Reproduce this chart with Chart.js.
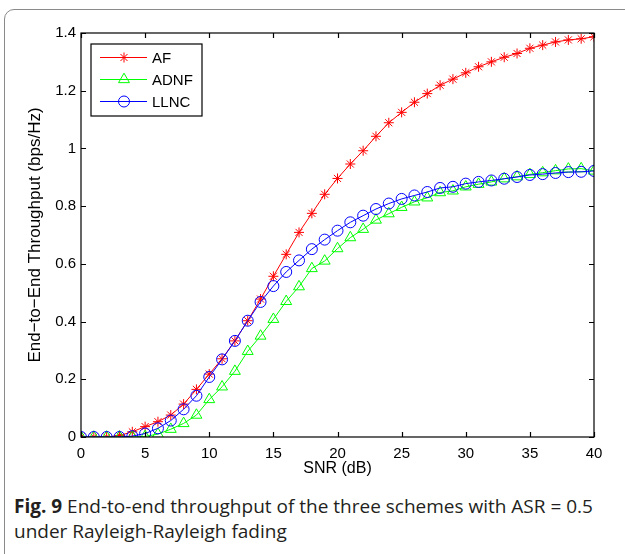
<!DOCTYPE html>
<html>
<head>
<meta charset="utf-8">
<script src="https://cdn.jsdelivr.net/npm/chart.js@4.4.1/dist/chart.umd.min.js"></script>
<style>
  body { margin: 0; background: #fff; }
  #page { position: relative; width: 625px; height: 554px; overflow: hidden; }
  #border {
    position: absolute; left: 4px; top: 9px; width: 700px; height: 700px;
    border: 1.5px solid #8a8a8a; border-radius: 10px; box-sizing: border-box;
  }
  #plot { position: absolute; left: 0; top: 0; width: 625px; height: 480px; }
  #caption {
    position: absolute; left: 14px; top: 494px; width: 605px;
    font-family: "Open Sans", "Noto Sans", sans-serif; font-size: 19px;
    line-height: 25px; color: #231f20; white-space: nowrap;
  }
  #caption b { font-weight: 700; }
</style>
</head>
<body>
<div id="page">
  <div id="border"></div>
  <div id="plot"><canvas id="chart"></canvas></div>
  <div id="caption"><b>Fig. 9</b> End-to-end throughput of the three schemes with ASR = 0.5<br>under Rayleigh-Rayleigh fading</div>
</div>
<script>
const snr = [0, 1, 2, 3, 4, 5, 6, 7, 8, 9, 10, 11, 12, 13, 14, 15, 16, 17, 18, 19, 20,
  21, 22, 23, 24, 25, 26, 27, 28, 29, 30, 31, 32, 33, 34, 35, 36, 37, 38, 39, 40];

const af = [0, 0, 0, 0.005, 0.018, 0.036, 0.053, 0.076, 0.114, 0.165, 0.218,
  0.271, 0.333, 0.403, 0.478, 0.557, 0.633, 0.709, 0.775, 0.841, 0.896,
  0.946, 0.992, 1.042, 1.089, 1.125, 1.160, 1.190, 1.219, 1.240, 1.262,
  1.283, 1.300, 1.316, 1.329, 1.347, 1.358, 1.369, 1.376, 1.380, 1.387];

const adnf = [0, 0, 0, 0, 0, 0.002, 0.010, 0.027, 0.047, 0.076, 0.130,
  0.174, 0.228, 0.297, 0.350, 0.408, 0.470, 0.521, 0.584, 0.610, 0.653,
  0.691, 0.720, 0.752, 0.774, 0.796, 0.815, 0.829, 0.847, 0.853, 0.867,
  0.876, 0.884, 0.895, 0.902, 0.910, 0.916, 0.923, 0.929, 0.930, 0.922];

const llnc = [0, 0, 0, 0, 0.003, 0.012, 0.030, 0.057, 0.096, 0.143, 0.208,
  0.269, 0.333, 0.403, 0.468, 0.523, 0.572, 0.612, 0.651, 0.684, 0.715,
  0.744, 0.767, 0.790, 0.809, 0.825, 0.837, 0.849, 0.863, 0.867, 0.878,
  0.884, 0.889, 0.895, 0.901, 0.908, 0.911, 0.915, 0.918, 0.919, 0.922];

const xTicks = [0, 5, 10, 15, 20, 25, 30, 35, 40];
const yTicks = [0, 0.2, 0.4, 0.6, 0.8, 1, 1.2, 1.4];

const family = '"Liberation Sans", Arial, sans-serif';
const tickFont = { family: family, size: 15 };
const titleFont = { family: family, size: 17 };

function pts(values) {
  return values.map((v, i) => ({ x: snr[i], y: v }));
}

// box with inward ticks, like the matlab axes
const axesBox = {
  id: 'axesBox',
  afterDatasetsDraw(chart) {
    const { ctx, chartArea: a, scales } = chart;
    const len = 5;
    ctx.save();
    ctx.strokeStyle = '#000';
    ctx.lineWidth = 1.2;
    ctx.strokeRect(a.left, a.top, a.right - a.left, a.bottom - a.top);
    ctx.beginPath();
    xTicks.forEach(v => {
      const px = Math.round(scales.x.getPixelForValue(v)) + 0.5;
      ctx.moveTo(px, a.bottom); ctx.lineTo(px, a.bottom - len);
      ctx.moveTo(px, a.top); ctx.lineTo(px, a.top + len);
    });
    yTicks.forEach(v => {
      const py = Math.round(scales.y.getPixelForValue(v)) + 0.5;
      ctx.moveTo(a.left, py); ctx.lineTo(a.left + len, py);
      ctx.moveTo(a.right, py); ctx.lineTo(a.right - len, py);
    });
    ctx.stroke();
    ctx.restore();
  }
};

// legend drawn inside the plot, top left
const boxLegend = {
  id: 'boxLegend',
  afterDraw(chart) {
    const { ctx, chartArea: a } = chart;
    const x0 = a.left + 10, y0 = a.top + 11, w = 111, h = 72;
    ctx.save();
    ctx.fillStyle = '#fff';
    ctx.fillRect(x0, y0, w, h);
    ctx.strokeStyle = '#000';
    ctx.lineWidth = 1.2;
    ctx.strokeRect(x0, y0, w, h);
    chart.data.datasets.forEach((ds, i) => {
      const yy = y0 + 13.5 + i * 22;
      ctx.strokeStyle = ds.borderColor;
      ctx.lineWidth = 1;
      ctx.beginPath();
      ctx.moveTo(x0 + 9, yy); ctx.lineTo(x0 + 56, yy);
      ctx.stroke();
      ctx.fillStyle = 'rgba(0,0,0,0)';
      Chart.helpers.drawPoint(ctx, {
        pointStyle: ds.pointStyle, radius: ds.pointRadius, borderWidth: 1, rotation: 0
      }, x0 + 33, yy);
      ctx.fillStyle = '#000';
      ctx.font = '15px ' + family;
      ctx.textBaseline = 'middle';
      ctx.fillText(ds.label, x0 + 61, yy + 1);
    });
    ctx.restore();
  }
};

const series = [
  { label: 'AF', values: af, color: '#ff0000', style: 'star', r: 5, order: 3 },
  { label: 'ADNF', values: adnf, color: '#00ff00', style: 'triangle', r: 6.3, order: 2 },
  { label: 'LLNC', values: llnc, color: '#0000ff', style: 'circle', r: 5.5, order: 1 }
];

new Chart(document.getElementById('chart'), {
  type: 'line',
  data: {
    datasets: series.map(s => ({
      label: s.label,
      data: pts(s.values),
      borderColor: s.color,
      backgroundColor: 'transparent',
      pointBorderColor: s.color,
      pointBackgroundColor: 'transparent',
      pointStyle: s.style,
      pointRadius: s.r,
      pointBorderWidth: 1,
      borderWidth: 1,
      tension: 0,
      order: s.order
    }))
  },
  options: {
    responsive: true,
    maintainAspectRatio: false,
    animation: false,
    layout: { padding: { top: 33, right: 31, left: 0, bottom: 0 } },
    plugins: { legend: { display: false }, tooltip: { enabled: false } },
    scales: {
      x: {
        type: 'linear', min: 0, max: 40,
        grid: { display: false, drawTicks: false },
        border: { display: false },
        afterFit: s => { s.height = 43; },
        ticks: { stepSize: 5, color: '#000', font: tickFont, padding: 8, maxRotation: 0 },
        title: { display: true, text: 'SNR (dB)', color: '#000', font: { family: family, size: 16 }, padding: { top: 0, bottom: 2 } }
      },
      y: {
        type: 'linear', min: 0, max: 1.4,
        grid: { display: false, drawTicks: false },
        border: { display: false },
        afterFit: s => { s.width = 81; },
        ticks: { stepSize: 0.2, color: '#000', font: tickFont, padding: 5,
          callback: v => String(+v.toFixed(1)) },
        title: { display: true, text: 'End\u2212to\u2212End Throughput (bps/Hz)', color: '#000', font: titleFont, padding: { top: 25, bottom: 0 } }
      }
    }
  },
  plugins: [axesBox, boxLegend]
});
</script>
</body>
</html>
